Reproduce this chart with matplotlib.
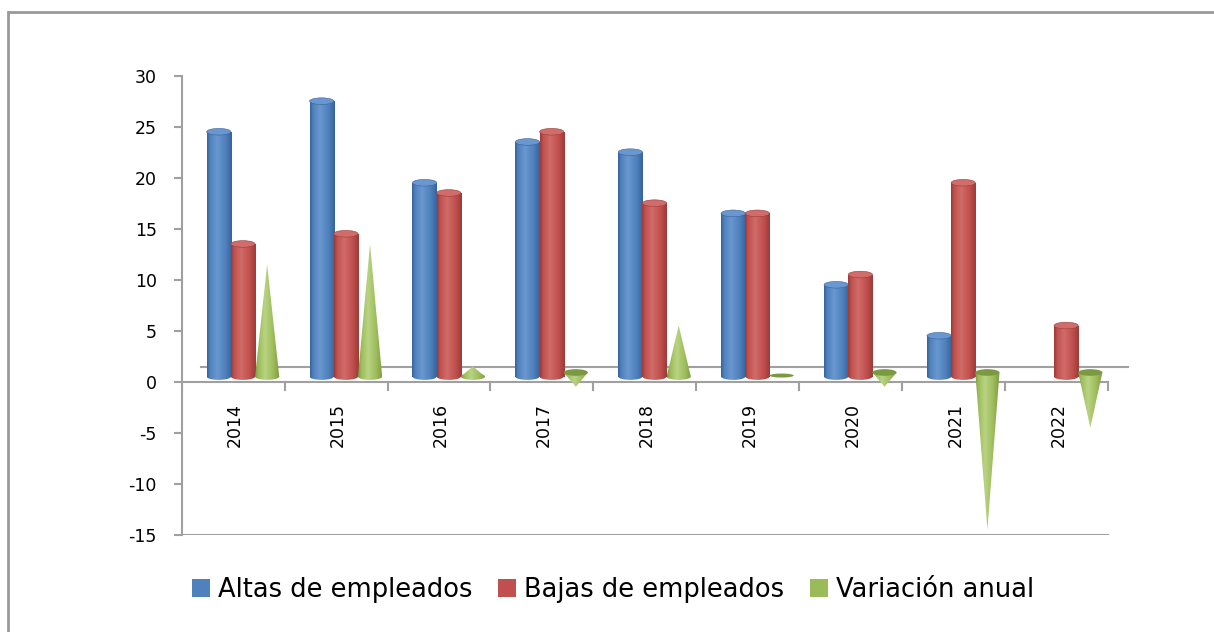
import matplotlib
matplotlib.use("Agg")
import matplotlib.pyplot as plt
import numpy as np
from matplotlib.patches import Ellipse, Polygon, Patch, Rectangle
from matplotlib.colors import LinearSegmentedColormap

plt.rcParams['axes.unicode_minus'] = False

years = ['2014', '2015', '2016', '2017', '2018', '2019', '2020', '2021', '2022']
altas = [24, 27, 19, 23, 22, 16, 9, 4, 0]
bajas = [13, 14, 18, 24, 17, 16, 10, 19, 5]
variacion = [11, 13, 1, -1, 5, 0, -1, -15, -5]

series = [
    ('Altas de empleados', altas, '#4F81BD', ('#36649c', '#4F81BD', '#6a97cf')),
    ('Bajas de empleados', bajas, '#C0504D', ('#9c3b38', '#C0504D', '#d06c69')),
    ('Variación anual', variacion, '#9BBB59', ('#7a9940', '#9BBB59', '#b9d482')),
]

lift = 0.5      # 3d depth offset of the bars
bw = 0.235      # bar width in category units
offsets = [0.36, 0.595, 0.83]
cap_h = 0.65

fig = plt.figure(figsize=(12.14, 6.32), dpi=100)
ax = fig.add_axes([0.1497, 0.154, 0.784, 0.7263])
ax.set_xlim(0, 9.25)
ax.set_ylim(-15, 30)


def shade_cmap(dark, mid, light):
    return LinearSegmentedColormap.from_list(
        's', [(0, dark), (0.12, mid), (0.4, light), (0.75, mid), (1, dark)])


grad = np.linspace(0, 1, 64).reshape(1, -1)

for k, (name, vals, col, shades) in enumerate(series):
    cmap = shade_cmap(*shades)
    for i, v in enumerate(vals):
        x0 = i + offsets[k] - bw / 2
        xc = i + offsets[k]
        if k < 2:
            if v == 0:
                continue
            rect = Rectangle((x0, lift), bw, v, facecolor='none', edgecolor='none')
            ax.add_patch(rect)
            im = ax.imshow(grad, cmap=cmap, aspect='auto',
                           extent=(x0, x0 + bw, lift, lift + v), zorder=2)
            im.set_clip_path(rect)
            bot = Ellipse((xc, lift), bw, cap_h, facecolor='none', edgecolor='none')
            ax.add_patch(bot)
            im2 = ax.imshow(grad, cmap=cmap, aspect='auto',
                            extent=(x0, x0 + bw, lift - cap_h, lift + cap_h), zorder=2)
            im2.set_clip_path(bot)
            ax.add_patch(Ellipse((xc, lift + v), bw, cap_h, facecolor=shades[2],
                                 edgecolor=shades[0], lw=0.4, zorder=3))
        else:
            if v == 0:
                ax.add_patch(Ellipse((xc, lift + 0.1), bw, cap_h * 0.6,
                                     facecolor=shades[0], edgecolor='none', zorder=3))
                continue
            base = lift + (0.4 if v < 0 else 0)
            tip = v + lift
            tri = Polygon([(x0, base), (x0 + bw, base), (xc, tip)],
                          closed=True, facecolor='none', edgecolor='none')
            ax.add_patch(tri)
            im = ax.imshow(grad, cmap=cmap, aspect='auto',
                           extent=(x0, x0 + bw, min(base, tip), max(base, tip)), zorder=2)
            im.set_clip_path(tri)
            if v > 0:
                bot = Ellipse((xc, base), bw, cap_h, facecolor='none', edgecolor='none')
                ax.add_patch(bot)
                im2 = ax.imshow(grad, cmap=cmap, aspect='auto',
                                extent=(x0, x0 + bw, base - cap_h, base + cap_h), zorder=2)
                im2.set_clip_path(bot)
            else:
                ax.add_patch(Ellipse((xc, base), bw, cap_h, facecolor=shades[0],
                                     edgecolor='none', zorder=3))

# axes lines
ax.plot([0.19, 9.2], [1.45, 1.45], color='#a0a0a0', lw=1.5, zorder=1)
ax.plot([0, 9], [0, 0], color='#a0a0a0', lw=1.5, zorder=1)
ax.plot([0, 9], [-15, -15], color='#a0a0a0', lw=1.5, zorder=1)
for i in range(10):
    ax.plot([i, i], [0, -0.8], color='#a0a0a0', lw=1.5, zorder=1)

for s in ['top', 'right', 'bottom']:
    ax.spines[s].set_visible(False)
ax.spines['left'].set_color('#a0a0a0')
ax.spines['left'].set_linewidth(1.5)
ax.set_yticks(range(-15, 31, 5))
ax.tick_params(axis='y', length=6, width=1.5, color='#a0a0a0', labelsize=12.5, pad=12)
ax.set_xticks([])

for i, y in enumerate(years):
    ax.text(i + 0.52, -2.1, y, rotation=90, ha='center', va='top', fontsize=12.5)

handles = [Patch(facecolor=c, edgecolor='none') for _, _, c, _ in series]
fig.legend(handles, [s[0] for s in series], loc='center', bbox_to_anchor=(0.505, 0.066),
           ncol=3, frameon=False, fontsize=18.5, handlelength=0.7, handleheight=0.7,
           handletextpad=0.3, columnspacing=1.0)

# outer chart frame
fig.add_artist(Rectangle((8 / 1214, -0.1), 1.2, (632 - 12) / 632 + 0.1,
                         transform=fig.transFigure, facecolor='none',
                         edgecolor='#999999', lw=2))

fig.savefig('out.png', dpi=100)
